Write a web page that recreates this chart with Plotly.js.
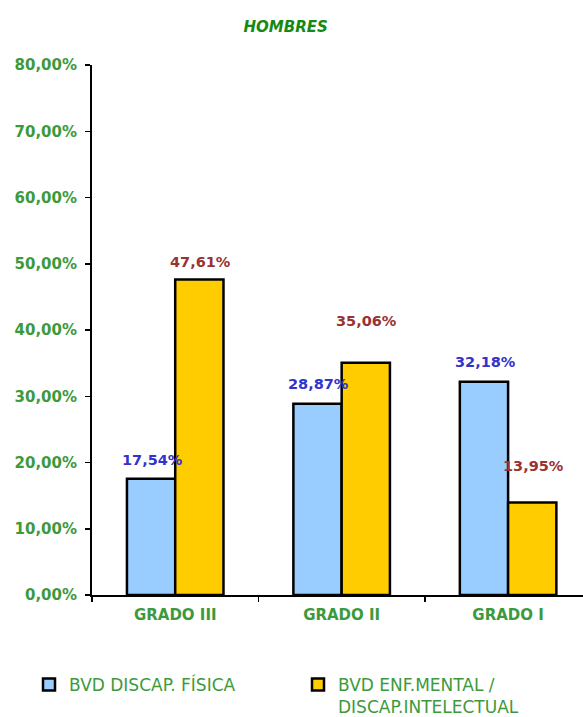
<!DOCTYPE html>
<html>
<head>
<meta charset="utf-8">
<script src="https://cdn.plot.ly/plotly-3.0.1.min.js"></script>
<style>html,body{margin:0;padding:0;background:#fff;}#chart{width:583px;height:717px;}</style>
</head>
<body>
<div id="chart"></div>
<script>
const categories = ['GRADO III', 'GRADO II', 'GRADO I'];
const fisica = [17.54, 28.87, 32.18];
const mental = [47.61, 35.06, 13.95];
const seriesNames = ['BVD DISCAP. FÍSICA', 'BVD ENF.MENTAL /<br>DISCAP.INTELECTUAL'];
const chartTitle = 'HOMBRES';

const fmt = v => v.toFixed(2).replace('.', ',') + '%';
const F = 'DejaVu Sans, Verdana, sans-serif';
const green = '#3c9a3c';

const traces = [
  {type: 'bar', name: seriesNames[0], x: categories, y: fisica, legend: 'legend',
   marker: {color: '#99CCFF', line: {color: '#000', width: 2.5}}, hoverinfo: 'none'},
  {type: 'bar', name: seriesNames[1], x: categories, y: mental, legend: 'legend2',
   marker: {color: '#FFCC00', line: {color: '#000', width: 2.5}}, hoverinfo: 'none'}
];

const blueShift = [19, 20, 20];
const yellowShift = [18, 42, 37];
const annotations = [];
categories.forEach((c, i) => {
  annotations.push({x: c, y: fisica[i], xref: 'x', yref: 'y', text: fmt(fisica[i]), showarrow: false,
    xshift: -23, yshift: blueShift[i], yanchor: 'middle',
    font: {family: F, size: 14.5, color: '#3333CC', weight: 'bold'}});
  annotations.push({x: c, y: mental[i], xref: 'x', yref: 'y', text: fmt(mental[i]), showarrow: false,
    xshift: 25, yshift: yellowShift[i], yanchor: 'middle',
    font: {family: F, size: 14.5, color: '#993333', weight: 'bold'}});
});

const legendCommon = {orientation: 'h', xref: 'container', yref: 'container', xanchor: 'left', yanchor: 'top',
  valign: 'top', font: {family: F, size: 17, color: green}, bgcolor: 'rgba(0,0,0,0)', borderwidth: 0};

const layout = {
  width: 583, height: 717,
  margin: {l: 92, r: 0, t: 65, b: 122, autoexpand: false},
  paper_bgcolor: '#fff', plot_bgcolor: '#fff',
  separators: ',.',
  showlegend: true,
  barmode: 'group', bargap: 0.42, bargroupgap: 0,
  title: {text: chartTitle, x: 0.49, xref: 'container', xanchor: 'center', y: 0.962, yref: 'container', yanchor: 'middle',
    font: {family: F, size: 15, color: '#148a14', weight: 'bold', style: 'italic'}},
  xaxis: {type: 'category', range: [-0.5, 2.45], showgrid: false, zeroline: false,
    showline: true, linecolor: '#000', linewidth: 2,
    ticks: 'outside', tickson: 'boundaries', ticklen: 5, tickcolor: '#000', tickwidth: 1.5, ticklabelstandoff: 5,
    tickfont: {family: F, size: 15, color: green, weight: 'bold'}, fixedrange: true},
  yaxis: {range: [0, 80], dtick: 10, tickformat: '.2f', ticksuffix: '%', showgrid: false, zeroline: false,
    showline: true, linecolor: '#000', linewidth: 2,
    ticks: 'outside', ticklen: 5, tickcolor: '#000', tickwidth: 1.5, ticklabelstandoff: 5,
    tickfont: {family: F, size: 15, color: green, weight: 'bold'}, fixedrange: true},
  legend: Object.assign({}, legendCommon, {x: 29 / 583, y: 50 / 717}),
  legend2: Object.assign({}, legendCommon, {x: 298 / 583, y: 50 / 717}),
  annotations: annotations
};

Plotly.newPlot('chart', traces, layout, {displayModeBar: false, staticPlot: true});
</script>
</body>
</html>
